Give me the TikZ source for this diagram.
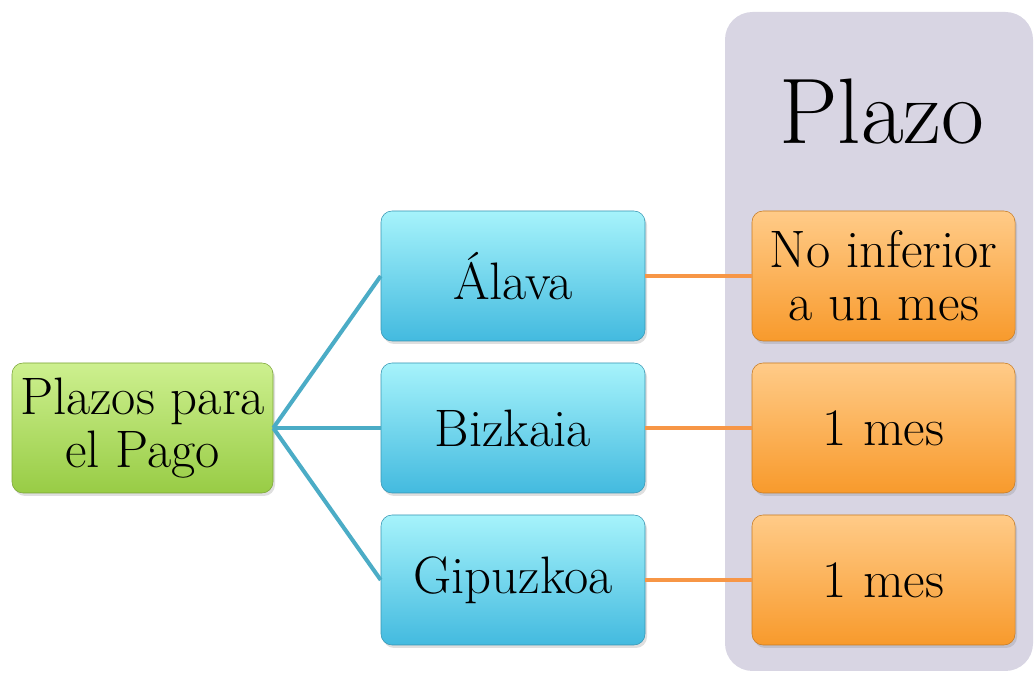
\documentclass[tikz,border=0pt]{standalone}
\usetikzlibrary{positioning}
\usetikzlibrary{shadows}

\definecolor{panelgray}{HTML}{D8D5E3}
\definecolor{greentop}{HTML}{CDF08F}
\definecolor{greenbot}{HTML}{98CC45}
\definecolor{bluetop}{HTML}{A6F3FB}
\definecolor{bluebot}{HTML}{43BADF}
\definecolor{orangetop}{HTML}{FFCB88}
\definecolor{orangebot}{HTML}{F89A2C}
\definecolor{blueline}{HTML}{4BACC6}
\definecolor{orangeline}{HTML}{F79646}

\tikzset{
  box/.style={rectangle, rounded corners=0.22cm, minimum height=2.6cm, align=center,
    font=\fontsize{30}{30}\selectfont, inner sep=0pt,
    drop shadow={opacity=0.25, shadow xshift=0.04cm, shadow yshift=-0.06cm}},
  rootbox/.style={box, minimum width=5.22cm, top color=greentop, bottom color=greenbot, draw=greenbot!80!black, line width=0.3pt},
  regionbox/.style={box, minimum width=5.28cm, top color=bluetop, bottom color=bluebot, draw=bluebot!80!black, line width=0.3pt},
  termbox/.style={box, minimum width=5.26cm, top color=orangetop, bottom color=orangebot, draw=orangebot!80!black, line width=0.3pt},
  blink/.style={blueline, line width=2.3pt},
  olink/.style={orangeline, line width=2.3pt}
}

\begin{document}
\begin{tikzpicture}[scale=1]
        \useasboundingbox (0,0) rectangle (20.7,13.46);
        % panel
        \fill[panelgray, rounded corners=0.55cm] (14.5,0.04) rectangle (20.66,13.22);
        \node[font=\fontsize{53}{58}\selectfont] (title) at (17.64,11.22) {Plazo};

        \node[rootbox] (pago) at (2.85,4.9) {Plazos para\\el Pago};

        \node[regionbox] (alava) at (10.26,7.94) {Álava};
        \node[regionbox] (bizkaia) at (10.26,4.9) {Bizkaia};
        \node[regionbox] (gipuzkoa) at (10.26,1.86) {Gipuzkoa};

        \node[termbox] (plazoa) at (17.67,7.94) {No inferior\\a un mes};
        \node[termbox] (plazob) at (17.67,4.9) {1 mes};
        \node[termbox] (plazoc) at (17.67,1.86) {1 mes};

        \draw[blink] (pago.east) -- (alava.west);
        \draw[blink] (pago.east) -- (bizkaia.west);
        \draw[blink] (pago.east) -- (gipuzkoa.west);
        \draw[olink] (alava.east) -- (plazoa.west);
        \draw[olink] (bizkaia.east) -- (plazob.west);
        \draw[olink] (gipuzkoa.east) -- (plazoc.west);
        \end{tikzpicture}
\end{document}
